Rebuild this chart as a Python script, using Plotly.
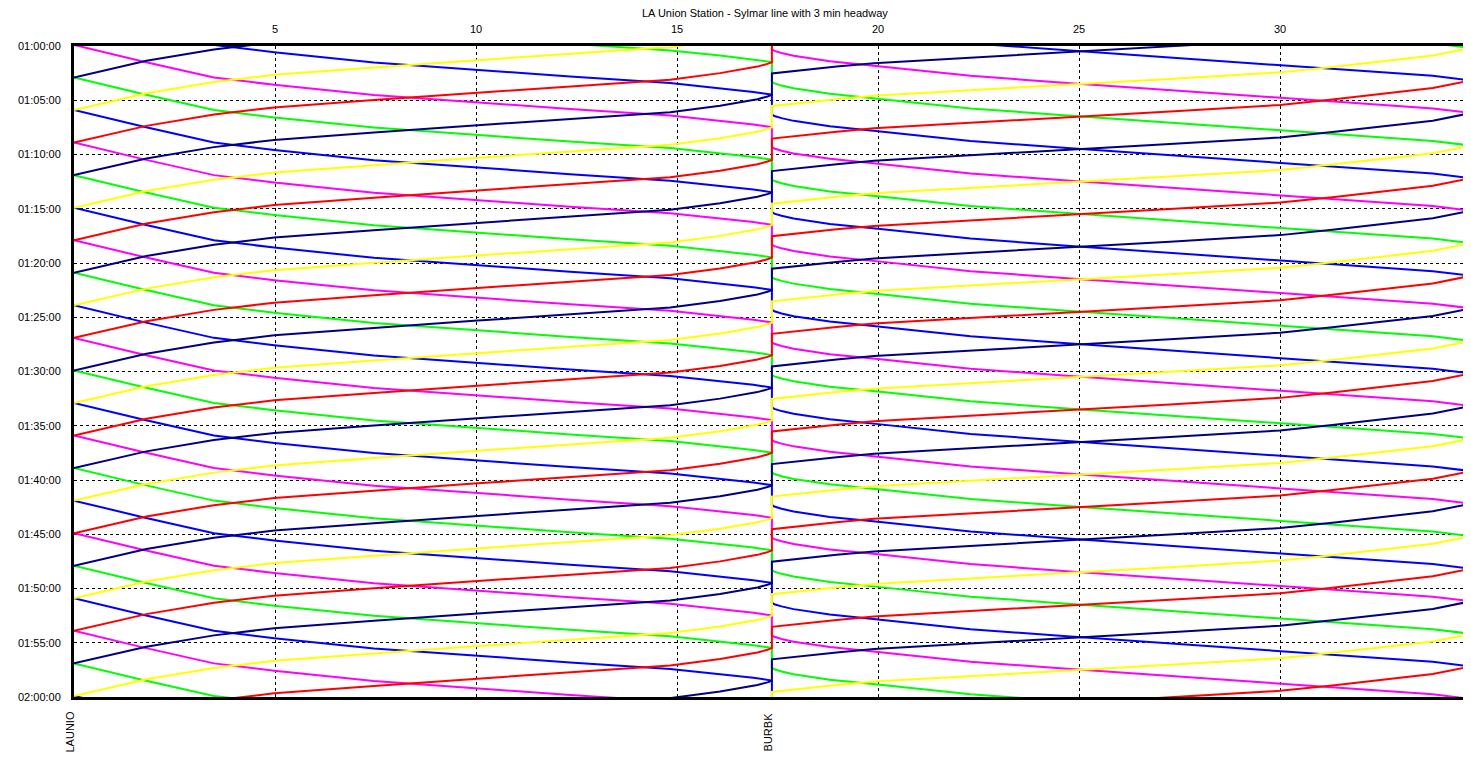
import plotly.graph_objects as go

TITLE = "LA Union Station - Sylmar line with 3 min headway"

# Stations (km along the line)
STATION_NAMES = ["LAUNIO", "BURBK", "SYLMAR"]
STATION_KM = [0.0, 17.36, 34.75]

# Axis ticks
X_TICKS = [5, 10, 15, 20, 25, 30]
Y_TICK_MIN = [0, 5, 10, 15, 20, 25, 30, 35, 40, 45, 50, 55, 60]
Y_TICK_TEXT = ["01:00:00", "01:05:00", "01:10:00", "01:15:00", "01:20:00", "01:25:00",
               "01:30:00", "01:35:00", "01:40:00", "01:45:00", "01:50:00", "01:55:00",
               "02:00:00"]

# Departures from LA Union (minutes after 01:00), 3 min headway
LA_DEPARTURES = [-30.1, -27.1, -24.1, -21.1, -18.1, -15.1, -12.1, -9.1, -6.1, -3.1,
                 -0.1, 2.9, 5.9, 8.9, 11.9, 14.9, 17.9, 20.9, 23.9, 26.9,
                 29.9, 32.9, 35.9, 38.9, 41.9, 44.9, 47.9, 50.9, 53.9, 56.9, 59.9]
# Trip colours (cycle over consecutive departures)
OUTBOUND_COLORS = ["#0000FF", "#FF00FF", "#00FF00"]
INBOUND_COLORS = ["#FF0000", "#000080", "#FFFF00"]

# Running profile outbound LA -> BURBK (km, minutes after LA departure)
OUT_A_KM = [0.0, 1.74, 3.48, 4.98, 7.46, 9.95, 12.34, 14.83, 16.07, 16.9, 17.36]
OUT_A_MIN = [0.0, 1.55, 3.0, 3.68, 4.62, 5.29, 5.91, 6.51, 6.98, 7.33, 7.58]
OUT_BURBK_DEP = 9.4          # minutes after LA departure
# Running profile outbound BURBK -> Sylmar (km, minutes after BURBK departure)
OUT_B_KM = [17.36, 17.42, 17.6, 17.9, 18.8, 20.0, 22.3, 24.7, 27.26, 30.0, 32.2, 33.8, 34.75]
OUT_B_MIN = [0.0, 0.15, 0.35, 0.6, 1.1, 1.55, 2.45, 3.1, 3.75, 4.45, 5.0, 5.45, 5.88]
SYLMAR_TURN = 15.28          # minutes after LA departure (arrival = departure back)

# Running profile inbound Sylmar -> BURBK (km, minutes after Sylmar departure)
IN_A_KM = [34.75, 33.8, 31.3, 30.0, 27.26, 25.3, 22.29, 19.9, 18.97, 18.3, 17.72, 17.45, 17.36]
IN_A_MIN = [0.0, 0.7, 1.75, 2.25, 2.85, 3.25, 3.9, 4.4, 4.72, 5.0, 5.2, 5.3, 5.35]
IN_BURBK_DEP = 7.32          # minutes after Sylmar departure
# Running profile inbound BURBK -> LA (km, minutes after BURBK departure)
IN_B_KM = [17.36, 17.25, 17.0, 16.5, 16.07, 14.83, 12.34, 9.95, 7.46, 4.98, 3.48, 1.8, 0.0]
IN_B_MIN = [0.0, 0.15, 0.4, 0.75, 1.0, 1.6, 2.2, 2.83, 3.48, 4.16, 4.82, 5.86, 7.4]

FONT = "Liberation Sans, Arial, sans-serif"

out_paths = {c: ([], []) for c in OUTBOUND_COLORS}
in_paths = {c: ([], []) for c in INBOUND_COLORS}

for i, dep in enumerate(LA_DEPARTURES):
    oc = OUTBOUND_COLORS[i % 3]
    ic = INBOUND_COLORS[i % 3]
    xs, ys = out_paths[oc]
    xs.extend(OUT_A_KM)
    ys.extend(dep + m for m in OUT_A_MIN)
    xs.extend(OUT_B_KM)
    ys.extend(dep + OUT_BURBK_DEP + m for m in OUT_B_MIN)
    xs.append(None)
    ys.append(None)
    s = dep + SYLMAR_TURN
    xs, ys = in_paths[ic]
    xs.extend(IN_A_KM)
    ys.extend(s + m for m in IN_A_MIN)
    xs.extend(IN_B_KM)
    ys.extend(s + IN_BURBK_DEP + m for m in IN_B_MIN)
    xs.append(None)
    ys.append(None)

fig = go.Figure()
for c in OUTBOUND_COLORS:
    fig.add_trace(go.Scatter(x=out_paths[c][0], y=out_paths[c][1], mode="lines",
                             line=dict(color=c, width=2), hoverinfo="skip",
                             showlegend=False))
for c in INBOUND_COLORS:
    fig.add_trace(go.Scatter(x=in_paths[c][0], y=in_paths[c][1], mode="lines",
                             line=dict(color=c, width=2), hoverinfo="skip",
                             showlegend=False))

# The page body adds an 8 px offset; size the figure so the plot lands where the reference has it
fig.update_layout(
    width=1463, height=749,
    margin=dict(l=66, r=0, t=38, b=60, autoexpand=False),
    paper_bgcolor="white", plot_bgcolor="white",
    font=dict(family=FONT, size=11, color="black"),
    showlegend=False,
)
fig.update_xaxes(
    range=[0, STATION_KM[-1]], side="top",
    tickvals=X_TICKS, ticks="", ticklabelstandoff=6,
    showgrid=True, gridcolor="black", gridwidth=1, griddash="3px,3px",
    showline=True, linecolor="black", linewidth=3, mirror=True,
    zeroline=False, tickfont=dict(size=11),
)
fig.update_yaxes(
    range=[60, 0], tickvals=Y_TICK_MIN, ticktext=Y_TICK_TEXT, ticks="",
    ticklabelstandoff=8,
    showgrid=True, gridcolor="black", gridwidth=1, griddash="3px,3px",
    showline=True, linecolor="black", linewidth=3, mirror=False,
    zeroline=False, tickfont=dict(size=11),
)

fig.add_annotation(text=TITLE, xref="paper", yref="paper", x=0.4946, y=1.0507,
                   showarrow=False, xanchor="center", yanchor="middle",
                   font=dict(size=11))
for name, km, shift in zip(STATION_NAMES, STATION_KM, [-4, -4, 4]):
    fig.add_annotation(text=name, xref="x", yref="paper", x=km, y=-0.02,
                       textangle=-90, showarrow=False, xanchor="center",
                       yanchor="top", xshift=shift, font=dict(size=11))

fig.write_html("out.html")
